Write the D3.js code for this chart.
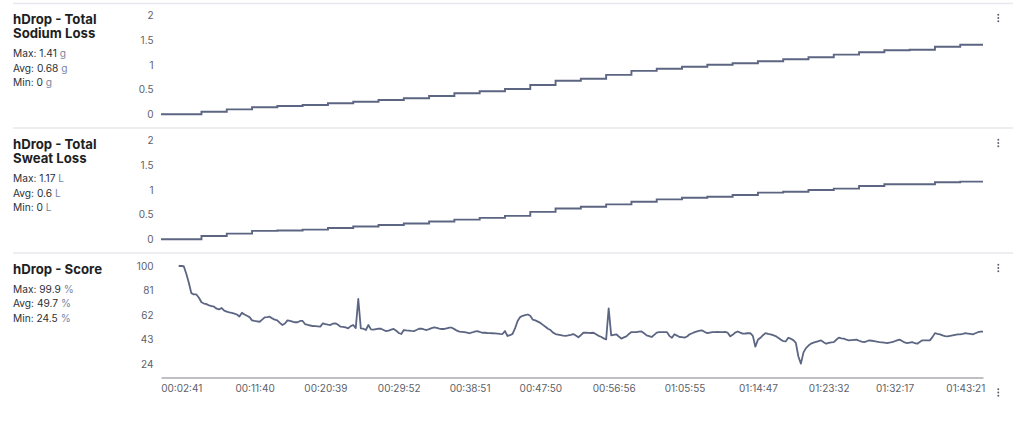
<!DOCTYPE html>
<html><head><meta charset="utf-8">
<script src="https://cdn.jsdelivr.net/npm/d3@7"></script>
<style>
html,body{margin:0;padding:0;background:#fff;}
svg{display:block;font-family:Inter,"Noto Sans",sans-serif;}
</style></head>
<body><svg id="c" width="1024" height="423"></svg>
<script>
// ---- data ----
const timeLabels = ["00:02:41","00:11:40","00:20:39","00:29:52","00:38:51","00:47:50","00:56:56","01:05:55","01:14:47","01:23:32","01:32:17","01:43:21"];
const timeLabelIdx = [8,37,65,94,122,150,179,207,236,264,290,318];
const lastIdx = 325;

const stepIdx = [0,16,26,36,46,56,66,76,86,96,106,116,126,136,146,156,166,176,186,196,206,216,226,236,246,256,266,276,286,296,306,316];
const sodium = [0,0.053,0.10,0.142,0.168,0.188,0.223,0.255,0.29,0.325,0.37,0.426,0.467,0.513,0.594,0.68,0.72,0.80,0.88,0.925,0.966,1.006,1.034,1.075,1.116,1.156,1.21,1.258,1.298,1.31,1.37,1.41];
const sweat = [0,0.067,0.115,0.17,0.18,0.197,0.23,0.26,0.29,0.32,0.36,0.40,0.435,0.476,0.557,0.626,0.66,0.708,0.762,0.81,0.843,0.864,0.898,0.946,0.966,1.0,1.027,1.08,1.116,1.116,1.157,1.17];

const score = [
null,null,null,null,null,null,null,100,100,99.8,
94,87,79,78,78,75.5,72,71,70.5,69.5,
69,68.5,67,66.5,67.5,65.5,64.7,64.2,63.8,63.2,
62.5,61,63.9,62.5,61.5,60.5,58,57.5,57.2,56.9,
58.5,60.3,60.5,60.8,59.5,58.5,58,56,54.4,55.5,
58,57.5,57,56.5,56.5,57.5,57.5,55,54.4,54,
53.6,53.5,53.3,53.1,55.7,55,54.6,54.4,55.5,55.7,
54.5,53.1,53,52.5,51.8,53.5,54.4,52,74.5,51.8,
51.5,50.5,54.4,51,50.8,51.2,51.6,51.5,50.5,49.7,
50,50.8,51.3,50,48.2,47.4,50.5,50.2,50,49.8,
49.7,50.5,51.5,51.6,51,50.5,51.2,52,52.6,52.2,
51.6,51.3,51.3,51.8,52.3,52.3,51.2,50,49.2,49,
48.8,48.4,48,48.6,49.3,49.7,49,48.4,48.4,48.2,
48.1,48,47.9,47.7,47.5,47.4,49.7,45.9,46.5,47.5,
52,57.5,60.5,61.5,62,62.5,61.5,58.5,58,57,
56,54.5,53,51.5,50.5,48.5,47.4,47,46.6,46.2,
45.9,46.3,46.8,47.4,46.2,44.9,46.5,48.4,48.4,48.3,
48.2,48.4,47.2,46,45.3,44,43.3,67.3,46.4,46.8,
47.2,45.5,43.9,44.8,45.6,47.5,48.9,48.9,48.9,49.2,
49.4,48,46.4,45.8,45.1,46.8,48.5,48.9,48.9,48.9,
48.9,46,44.5,47.2,46.2,45.1,45,44.6,45.5,47.2,
48,48.9,49.5,50,50.2,49,48.1,48.5,48.9,48.9,
49,48.8,48.9,49,48.5,45.6,46.8,48.5,49.4,48.5,
47.7,47.8,48,48.1,46,37.6,43,44.5,46.5,48.1,
47.6,47.2,46.5,45.8,44.5,43.1,42,41.7,44.5,43.8,
42.7,40.5,30,24.5,33,36.5,38.5,40,40.8,41.4,
42,42.5,41,39.9,40.5,41,41.2,43,44.6,44,
43.8,43,42.5,42.7,42.9,43.1,42.2,41.5,41.2,41.8,
42.5,42.2,41.9,41.5,41.2,41,40.7,40.4,40.8,41.2,
41.8,42.5,43.1,42,40.9,40.4,40.8,41.2,40.3,39.9,
41.2,42.5,42.5,42.5,42.5,45,48.1,47.6,47.2,46.4,
45.8,45.6,46,46.4,46.8,47.2,47.2,47.6,48.1,47.8,
47.5,47.2,48,48.8,49.2,49.2
];

const panels = [
  {title:["hDrop - Total","Sodium Loss"], stats:[["Max: 1.41 ","g"],["Avg: 0.68 ","g"],["Min: 0 ","g"]]},
  {title:["hDrop - Total","Sweat Loss"], stats:[["Max: 1.17 ","L"],["Avg: 0.6 ","L"],["Min: 0 ","L"]]},
  {title:["hDrop - Score"], stats:[["Max: 99.9 ","%"],["Avg: 49.7 ","%"],["Min: 24.5 ","%"]]}
];
const yTicks12 = [0,0.5,1,1.5,2];
const yTicks3 = [24,43,62,81,100];

// ---- drawing ----
const svg = d3.select("#c");
const lineColor = "#5c6683";
const x = d3.scaleLinear().domain([0,lastIdx]).range([161,983]);

// separators
[3.5,128,253].forEach(yy=>{
  svg.append("line").attr("x1",13).attr("x2",1013).attr("y1",yy).attr("y2",yy)
    .attr("stroke","#e6e8ee").attr("stroke-width",1.5);
});

// left texts
const offsets=[0,125,250];
panels.forEach((p,k)=>{
  const g = svg.append("g").attr("transform",`translate(13,${offsets[k]})`);
  p.title.forEach((t,i)=>{
    g.append("text").attr("x",0).attr("y",23.5+i*14.6).text(t)
      .attr("font-size",13.2).attr("font-weight",700).attr("fill","#1d1f24");
  });
  const base = p.title.length===2 ? 57 : 42.5;
  p.stats.forEach((s,i)=>{
    const t = g.append("text").attr("x",0).attr("y",base+i*14.5).attr("font-size",10.2).attr("fill","#2c2f36");
    t.append("tspan").text(s[0]);
    t.append("tspan").text(s[1]).attr("fill","#7b86a3");
  });
  // kebab
  [ -3.3,0,3.3 ].forEach(dy=>{
    svg.append("circle").attr("cx",998.3).attr("cy",offsets[k]+18+dy).attr("r",0.95).attr("fill","#5a5f6b");
  });
});
[ -3.3,0,3.3 ].forEach(dy=>{
  svg.append("circle").attr("cx",998.3).attr("cy",392.5+dy).attr("r",0.95).attr("fill","#5a5f6b");
});

function yAxis(scale, ticks){
  const ax = svg.append("g").attr("transform","translate(161,0)")
    .call(d3.axisLeft(scale).tickValues(ticks).tickSize(0).tickPadding(7.5).tickFormat(d3.format("~g")));
  ax.select(".domain").remove();
  ax.selectAll("text").attr("font-size",10).attr("fill","#5d6169").attr("font-family","Inter,'Noto Sans',sans-serif");
}

const y1 = d3.scaleLinear().domain([0,2]).range([114.3,15.7]);
const y2 = d3.scaleLinear().domain([0,2]).range([239.3,140.7]);
const y3 = d3.scaleLinear().domain([24,100]).range([364.3,266]);
yAxis(y1,yTicks12); yAxis(y2,yTicks12); yAxis(y3,yTicks3);

function stepLine(vals, ys){
  const pts = stepIdx.map((s,i)=>[s,vals[i]]);
  pts.push([lastIdx, vals[vals.length-1]]);
  svg.append("path").datum(pts)
    .attr("d", d3.line().x(d=>x(d[0])).y(d=>ys(d[1])).curve(d3.curveStepAfter))
    .attr("fill","none").attr("stroke",lineColor).attr("stroke-width",1.9);
}
stepLine(sodium,y1);
stepLine(sweat,y2);

svg.append("path").datum(score)
  .attr("d", d3.line().defined(d=>d!=null).x((d,i)=>x(i)).y(d=>y3(d)))
  .attr("fill","none").attr("stroke",lineColor).attr("stroke-width",1.8).attr("stroke-linejoin","round");

// x axis
const xa = svg.append("g").attr("transform","translate(0,377.5)")
  .call(d3.axisBottom(x).tickValues(timeLabelIdx).tickSize(0).tickPadding(7.5)
    .tickFormat((d,i)=>timeLabels[i]));
xa.select(".domain").attr("stroke","#a9abb0").attr("stroke-width",1.5);
xa.selectAll("text").attr("font-size",10).attr("fill","#5d6169").attr("font-family","Inter,'Noto Sans',sans-serif");
</script>
</body></html>
